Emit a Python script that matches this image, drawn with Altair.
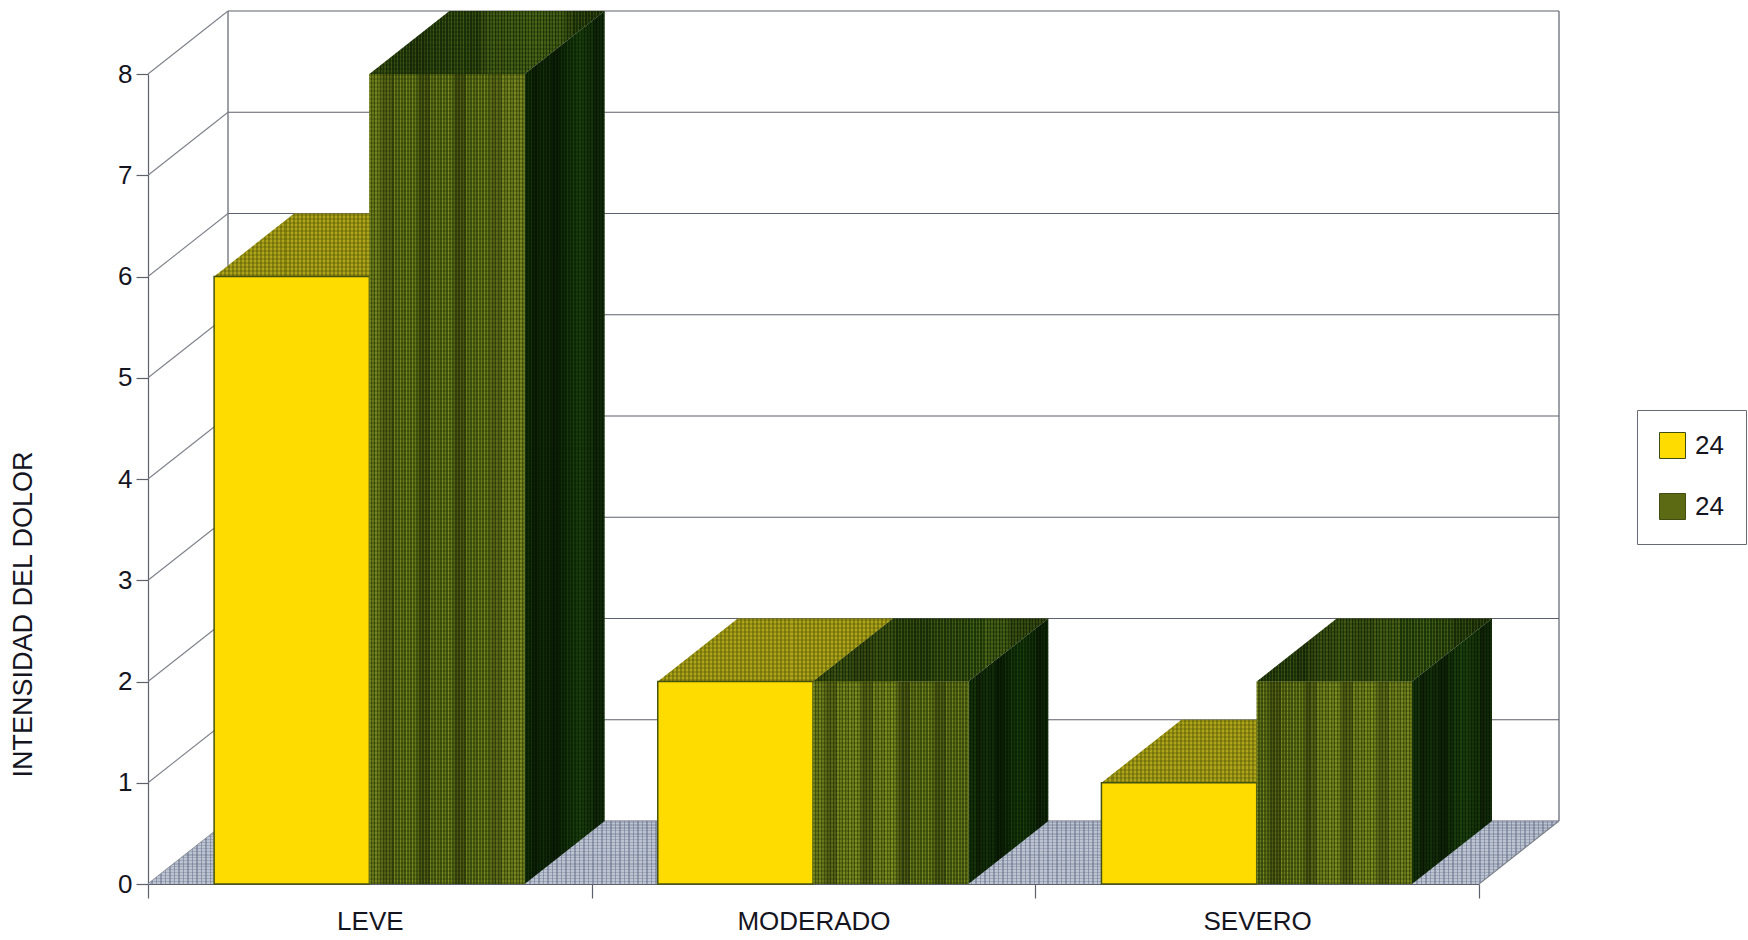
import altair as alt
import pandas as pd

# Pain intensity by severity class, two series both labelled 24
categories = ["LEVE", "MODERADO", "SEVERO"]
series_names = ["24", "24 "]
series_a = [6, 2, 1]
series_b = [8, 2, 2]
y_ticks = [0, 1, 2, 3, 4, 5, 6, 7, 8]
axis_title = "INTENSIDAD DEL DOLOR"

WIDTH, HEIGHT = 1331, 810
PX_X, PX_Y = WIDTH / 3, HEIGHT / 8
DX, DY = 80 / PX_X, 63 / PX_Y  # oblique depth of the box, in axis units
GAP, BAR = 0.149, 0.35
LINE = "#5d616c"
FONT = "Liberation Sans"
TEXT = "#15151f"

x_axis = alt.Axis(
    values=[0, 0.5, 1, 1.5, 2, 2.5, 3],
    labelExpr="datum.value === 0.5 ? '%s' : datum.value === 1.5 ? '%s' : datum.value === 2.5 ? '%s' : ''"
    % tuple(categories),
    tickSize=14,
    tickColor=LINE,
    tickWidth=1.2,
    tickOpacity={"condition": {"test": "datum.value % 1 === 0", "value": 1}, "value": 0},
    domainColor=LINE,
    domainWidth=1.2,
    grid=False,
    title=None,
    labelFont=FONT,
    labelFontSize=26,
    labelColor=TEXT,
    labelPadding=10,
    labelOverlap=False,
    labelFlush=False,
)
y_axis = alt.Axis(
    values=y_ticks,
    tickSize=12,
    tickColor=LINE,
    tickWidth=1.2,
    domainColor=LINE,
    domainWidth=1.2,
    grid=False,
    title=axis_title,
    titleFont=FONT,
    titleFontSize=27,
    titleFontWeight="normal",
    titleColor=TEXT,
    titleX=-111,
    titleY=540,
    labelFont=FONT,
    labelFontSize=26,
    labelColor=TEXT,
    labelPadding=4,
    format="d",
)
X = alt.X("x:Q", scale=alt.Scale(domain=[0, 3], nice=False, zero=False), axis=x_axis)
Y = alt.Y("y:Q", scale=alt.Scale(domain=[0, 8], nice=False, zero=False), axis=y_axis, stack=None)

# Coarse light and dark shading across a face, left to right
FRONT_SHADE = [1, 0.8, 1.02, 1.06, 0.78, 1, 1.06, 0.76, 1, 1.05, 0.82, 1, 1.02]
TOP_SHADE = [0.85, 0.9, 0.8, 0.9, 0.95, 0.9, 1, 1.05, 1.1, 1.05, 0.85, 0.8]
SIDE_SHADE = [0.9, 0.7, 0.85, 0.8, 0.65, 0.85, 1.05, 1.15, 1.1, 0.95, 0.7, 0.8]


def tint(color, factor):
    r, g, b = (int(color[i : i + 2], 16) for i in (1, 3, 5))
    return "#%02x%02x%02x" % tuple(min(255, int(c * factor)) for c in (r, g, b))


def stripes(palette, n, shade=(1,)):
    """Fine hard-edged vertical bands cycling through a palette, under a coarse shading."""
    stops = []
    for i in range(n):
        c = palette[i % len(palette)]
        c = tint(c, shade[min(len(shade) - 1, i * len(shade) // n)])
        stops += [{"offset": i / n, "color": c}, {"offset": (i + 1) / n, "color": c}]
    return {"gradient": "linear", "x1": 0, "x2": 1, "y1": 0, "y2": 0, "stops": stops}


def rows(n, color):
    """Fine horizontal translucent bands laid over a face to give it a weave."""
    stops = []
    for i in range(n):
        c = color if i % 2 == 0 else "rgba(255,255,255,0)"
        stops += [{"offset": i / n, "color": c}, {"offset": (i + 1) / n, "color": c}]
    return {"gradient": "linear", "x1": 0, "x2": 0, "y1": 0, "y2": 1, "stops": stops}


def band_count(span_units, px, size=2.0):
    return max(4, int(span_units * px / size))


def quad(points, paint, **kw):
    frame = pd.DataFrame(points, columns=["x", "y", "y2"])
    return alt.Chart(frame).mark_area(color=paint, **kw).encode(x=X, y=Y, y2="y2:Q")


def segs(points, color=LINE, width=1.2):
    frame = pd.DataFrame(points, columns=["x", "x2", "y", "y2"])
    return alt.Chart(frame).mark_rule(color=color, strokeWidth=width).encode(
        x=X, x2="x2:Q", y=Y, y2="y2:Q"
    )


def parallelogram_top(x0, w, v):
    return [
        (x0, v, v),
        (x0 + DX, v, v + DY),
        (x0 + w, v, v + DY),
        (x0 + w + DX, v + DY, v + DY),
    ]


def side(x0, w, v):
    return [(x0 + w, 0, v), (x0 + w + DX, DY, v + DY)]


layers = []

# Back wall, side wall and floor of the oblique box
layers.append(
    segs(
        [(DX, 3 + DX, v + DY, v + DY) for v in y_ticks]
        + [(DX, DX, DY, 8 + DY), (3 + DX, 3 + DX, DY, 8 + DY)]
    )
)
layers.append(segs([(0, DX, v, v + DY) for v in y_ticks], color="#7d8189", width=1.1))

floor_pts = parallelogram_top(0, 3, 0)
layers.append(quad(floor_pts, stripes(["#bcc4d2", "#bcc4d2", "#8f98ac"], band_count(3 + DX, PX_X, 1.5))))
layers.append(quad(floor_pts, rows(band_count(DY, PX_Y, 1.5), "rgba(95,105,130,0.30)")))
layers.append(segs([(3, 3 + DX, 0, DY)], color="#7d8189", width=1.1))

color_scale = alt.Scale(domain=series_names, range=["#FFDC00", "#5c6a14"])
legend = alt.Legend(
    orient="none",
    legendX=1489,
    legendY=336,
    title=None,
    symbolType="square",
    symbolSize=676,
    symbolStrokeColor="#3f4d12",
    symbolStrokeWidth=1,
    symbolOpacity=1,
    labelFont=FONT,
    labelFontSize=26,
    labelColor=TEXT,
    labelOffset=9,
    rowPadding=30,
    padding=22,
    strokeColor="#666a72",
    fillColor="#ffffff",
)

FRONT_GREEN = ["#78861f", "#46570f", "#6a781a", "#3f5210"]
TOP_GREEN = ["#3f5614", "#233c0c", "#4a5e16", "#1d350a"]
SIDE_GREEN = ["#1a3a0c", "#0c2606", "#16340a", "#0a2205"]
TOP_YELLOW = ["#b0a41c", "#85840f"]

for g in range(len(categories)):
    ya, yb = series_a[g], series_b[g]
    xa, xb = g + GAP, g + GAP + BAR

    # first series: flat yellow front, woven olive top
    layers.append(quad(side(xa, BAR, ya), "#8d8a12"))
    top = parallelogram_top(xa, BAR, ya)
    layers.append(quad(top, stripes(TOP_YELLOW, band_count(BAR + DX, PX_X, 2.0))))
    layers.append(quad(top, rows(band_count(DY, PX_Y, 2.0), "rgba(70,70,0,0.25)")))
    layers.append(
        alt.Chart(pd.DataFrame({"x": [xa], "x2": [xa + BAR], "y": [ya], "y2": [0], "s": [series_names[0]]}))
        .mark_rect(stroke="#46520f", strokeWidth=1.5, opacity=1)
        .encode(
            x=X,
            x2="x2:Q",
            y=Y,
            y2="y2:Q",
            color=alt.Color("s:N", scale=color_scale, legend=legend),
        )
    )

    # second series: streaked green faces
    top = parallelogram_top(xb, BAR, yb)
    layers.append(quad(top, stripes(TOP_GREEN, band_count(BAR + DX, PX_X, 1.5), shade=TOP_SHADE)))
    layers.append(quad(top, rows(band_count(DY, PX_Y, 2.0), "rgba(10,30,0,0.25)")))
    face = side(xb, BAR, yb)
    layers.append(quad(face, stripes(SIDE_GREEN, band_count(DX, PX_X, 1.5), shade=SIDE_SHADE)))
    layers.append(quad(face, rows(band_count(yb + DY, PX_Y, 2.0), "rgba(5,20,0,0.2)")))
    layers.append(
        alt.Chart(pd.DataFrame({"x": [xb], "x2": [xb + BAR], "y": [yb], "y2": [0], "s": [series_names[1]]}))
        .mark_rect(opacity=1)
        .encode(
            x=X,
            x2="x2:Q",
            y=Y,
            y2="y2:Q",
            color=alt.Color("s:N", scale=color_scale, legend=legend),
        )
    )
    grain = pd.DataFrame({"x": [xb], "x2": [xb + BAR], "y": [yb], "y2": [0]})
    layers.append(
        alt.Chart(grain)
        .mark_rect(color=stripes(FRONT_GREEN, band_count(BAR, PX_X, 1.5), shade=FRONT_SHADE))
        .encode(x=X, x2="x2:Q", y=Y, y2="y2:Q")
    )
    layers.append(
        alt.Chart(grain)
        .mark_rect(color=rows(band_count(yb, PX_Y, 2.0), "rgba(30,45,0,0.25)"))
        .encode(x=X, x2="x2:Q", y=Y, y2="y2:Q")
    )

chart = (
    alt.layer(*layers)
    .resolve_scale(color="shared")
    .properties(
        width=WIDTH,
        height=HEIGHT,
        padding={"left": 148, "top": 74, "right": 269, "bottom": 56},
        autosize=alt.AutoSizeParams(type="none"),
        background="#ffffff",
    )
    .configure_view(stroke=None)
)

chart.save("out.html", embed_options={"renderer": "svg", "actions": False})
